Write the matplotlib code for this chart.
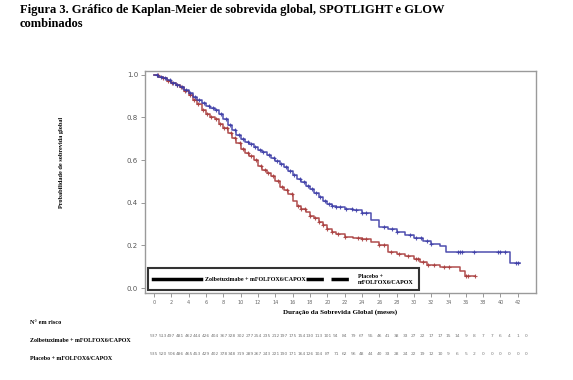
import numpy as np
import matplotlib
matplotlib.use("Agg")
import matplotlib.pyplot as plt
from matplotlib.lines import Line2D

# ---------------- data ----------------
zolb_t = [0, 0.5, 1, 1.5, 2, 2.5, 3, 3.5, 4, 4.5, 5, 5.5, 6, 6.5, 7, 7.5, 8, 8.5, 9, 9.5,
          10, 10.5, 11, 11.5, 12, 12.5, 13, 13.5, 14, 14.5, 15, 15.5, 16, 16.5, 17, 17.5,
          18, 18.5, 19, 19.5, 20, 20.5, 21, 22, 23, 24, 25, 26, 27, 28, 29, 30, 31, 32,
          33, 33.7, 41.1, 42.2]
zolb_s = [1.0, 0.99, 0.982, 0.973, 0.962, 0.953, 0.944, 0.93, 0.912, 0.895, 0.88, 0.868,
          0.855, 0.845, 0.834, 0.815, 0.79, 0.765, 0.742, 0.718, 0.70, 0.686, 0.673, 0.66,
          0.648, 0.637, 0.625, 0.61, 0.595, 0.582, 0.568, 0.55, 0.532, 0.51, 0.495, 0.478,
          0.462, 0.445, 0.428, 0.41, 0.395, 0.385, 0.378, 0.372, 0.364, 0.35, 0.318, 0.287,
          0.275, 0.264, 0.25, 0.233, 0.222, 0.208, 0.198, 0.17, 0.119, 0.119]

plac_t = [0, 0.5, 1, 1.5, 2, 2.5, 3, 3.5, 4, 4.5, 5, 5.5, 6, 6.5, 7, 7.5, 8, 8.5, 9, 9.5,
          10, 10.5, 11, 11.5, 12, 12.5, 13, 13.5, 14, 14.5, 15, 15.5, 16, 16.5, 17, 17.5,
          18, 18.5, 19, 19.5, 20, 20.5, 21, 22, 23, 24, 25, 26, 27, 28, 29, 30, 30.7, 31.5,
          33, 35.3, 35.9, 37.1]
plac_s = [1.0, 0.99, 0.982, 0.972, 0.962, 0.952, 0.942, 0.925, 0.905, 0.882, 0.862, 0.835,
          0.815, 0.803, 0.79, 0.77, 0.748, 0.728, 0.705, 0.68, 0.652, 0.635, 0.618, 0.598,
          0.57, 0.553, 0.54, 0.525, 0.5, 0.475, 0.46, 0.44, 0.41, 0.385, 0.37, 0.355, 0.34,
          0.33, 0.31, 0.295, 0.275, 0.262, 0.255, 0.24, 0.235, 0.228, 0.215, 0.2, 0.17,
          0.158, 0.148, 0.135, 0.123, 0.11, 0.1, 0.081, 0.056, 0.056]

zolb_cens = [0.3, 0.8, 1.3, 1.8, 2.2, 2.7, 3.2, 3.7, 4.2, 4.7, 5.2, 5.8, 6.3, 6.8, 7.2,
             7.7, 8.3, 8.8, 9.3, 9.8, 10.3, 10.8, 11.2, 11.7, 12.2, 12.6, 13.3, 13.8,
             14.2, 14.7, 15.2, 15.7, 16.2, 16.8, 17.3, 17.8, 18.2, 18.7, 19.2, 19.7, 20.2,
             20.5, 21.0, 21.5, 22.2, 22.8, 23.3, 24.0, 24.5, 26.5, 27.5, 28.0, 29.5, 30.2,
             30.8, 31.5, 32.0, 35.1, 35.3, 35.6, 36.9, 39.7, 40.0, 40.5, 41.8, 42.0]
plac_cens = [0.4, 1.0, 1.6, 2.1, 2.6, 3.1, 3.6, 4.1, 4.6, 5.1, 5.6, 6.1, 6.6, 7.1, 7.6,
             8.1, 8.4, 8.9, 9.4, 9.9, 10.3, 10.8, 11.2, 11.8, 12.3, 12.8, 13.2, 13.7, 14.3,
             14.8, 15.4, 15.9, 16.6, 17.0, 17.4, 18.0, 18.6, 19.0, 19.5, 20.0, 20.5, 21.2,
             22.0, 23.5, 24.0, 24.5, 26.0, 26.5, 27.4, 28.3, 29.3, 30.3, 30.5, 31.0, 31.6,
             32.3, 33.5, 34.0, 36.0, 36.3, 37.1]

risk_months = list(range(0, 44))
zolb_risk = [537, 513, 497, 481, 462, 444, 426, 404, 367, 328, 302, 277, 254, 235, 212, 197,
             175, 154, 130, 113, 101, 94, 84, 79, 67, 55, 46, 41, 38, 33, 27, 22, 17, 17, 15,
             14, 9, 8, 7, 7, 6, 4, 1, 0]
plac_risk = [535, 520, 506, 486, 465, 453, 429, 402, 378, 348, 319, 289, 267, 243, 221, 190,
             171, 164, 126, 104, 87, 71, 62, 56, 48, 44, 40, 33, 28, 24, 22, 19, 12, 10, 9,
             6, 5, 2, 0, 0, 0, 0, 0, 0]

x_ticks = list(range(0, 43, 2))
y_ticks = [0.0, 0.2, 0.4, 0.6, 0.8, 1.0]

title = "Figura 3. Gráfico de Kaplan-Meier de sobrevida global, SPOTLIGHT e GLOW\ncombinados"
lbl_zolb = "Zolbetuximabe + mFOLFOX6/CAPOX"
lbl_plac = "Placebo + mFOLFOX6/CAPOX"
lbl_plac_leg = "Placebo +\nmFOLFOX6/CAPOX"

# ---------------- figure ----------------
W, H = 573, 380
fig = plt.figure(figsize=(W / 100, H / 100), dpi=100)
fig.patch.set_facecolor("white")
serif = "Liberation Serif"

ax = fig.add_axes([145 / W, 1 - 293 / H, (536 - 145) / W, (293 - 71) / H])
ax.set_xlim(-1.05, 44.1)
ax.set_ylim(-0.023, 1.017)

blue = "#3b3ba6"
red = "#a83a3a"

def step_val(ts, ss, t):
    i = np.searchsorted(np.asarray(ts), t, side="right") - 1
    return np.asarray(ss)[np.clip(i, 0, len(ss) - 1)]

for ts, ss, cens, col in [(plac_t, plac_s, plac_cens, red), (zolb_t, zolb_s, zolb_cens, blue)]:
    ax.step(ts, ss, where="post", color=col, lw=1.1, alpha=0.9)
    cy = step_val(ts, ss, np.asarray(cens))
    ax.plot(cens, cy, ls="none", marker="+", ms=3.5, mew=0.8, color=col, alpha=0.85)

for sp in ax.spines.values():
    sp.set_color("#9a9a9a")
    sp.set_linewidth(1.0)

ax.set_xticks(x_ticks)
ax.set_xticklabels([str(v) for v in x_ticks], fontsize=3.5, color="#666666")
ax.set_yticks(y_ticks)
ax.set_yticklabels([f"{v:.1f}" for v in y_ticks], fontsize=5, color="#555555")
ax.tick_params(axis="both", colors="#888888", length=3, width=0.6)
ax.tick_params(axis="x", labelcolor="#666666", pad=2)
ax.tick_params(axis="y", labelcolor="#555555", pad=2)

ax.set_xlabel("Duração da Sobrevida Global (meses)", fontsize=5.1, fontweight="bold",
              family=serif, labelpad=3)
fig.text(61 / W, 1 - 162 / H, "Probabilidade de sobrevida global", rotation=90,
         ha="center", va="center", fontsize=4.5, fontweight="bold", family=serif)

handles = [Line2D([], [], color="black", lw=2.5, ls="-"),
           Line2D([], [], color="black", lw=2.5, ls=(0, (5, 2.2)))]
leg = ax.legend(handles, [lbl_zolb, lbl_plac_leg], ncol=2, loc="lower left",
                bbox_to_anchor=(3 / (536 - 145), 3 / (293 - 71)),
                prop={"family": serif, "weight": "bold", "size": 4.3},
                handlelength=8.0, handletextpad=0.7, columnspacing=0.0,
                frameon=True, fancybox=False, borderpad=0.9, borderaxespad=0)
leg.get_frame().set_edgecolor("black")
leg.get_frame().set_linewidth(1.5)

# title
fig.text(20 / W, 1 - 4 / H, title, ha="left", va="top", fontsize=9, fontweight="bold",
         family=serif, linespacing=1.2)

# at-risk table
fig.text(30 / W, 1 - 322 / H, "N° em risco", ha="left", va="center", fontsize=4.5,
         fontweight="bold", family=serif)
fig.text(30 / W, 1 - 340 / H, lbl_zolb, ha="left", va="center", fontsize=4.3,
         fontweight="bold", family=serif)
fig.text(30 / W, 1 - 358 / H, lbl_plac, ha="left", va="center", fontsize=4.3,
         fontweight="bold", family=serif)

trans = matplotlib.transforms.blended_transform_factory(ax.transData, fig.transFigure)
for m, zr, pr in zip(risk_months, zolb_risk, plac_risk):
    ax.text(m, 1 - 336 / H, str(zr), transform=trans, ha="center", va="center",
            fontsize=3.2, color="#777777", clip_on=False)
    ax.text(m, 1 - 354 / H, str(pr), transform=trans, ha="center", va="center",
            fontsize=3.2, color="#777777", clip_on=False)

fig.savefig("out.png", dpi=100, facecolor="white")
